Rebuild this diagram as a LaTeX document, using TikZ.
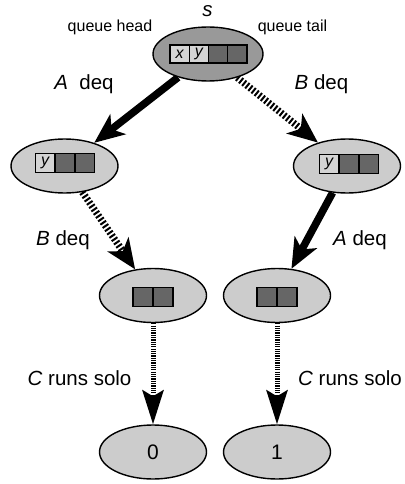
\documentclass[tikz,border=0pt]{standalone}
\usepackage{fontspec}
\setmainfont{Liberation Sans}
\usetikzlibrary{arrows.meta,shapes.geometric,backgrounds}

\definecolor{stategray}{HTML}{CCCCCC}
\definecolor{startgray}{HTML}{999999}
\definecolor{slotdark}{HTML}{666666}
\definecolor{slotlight}{HTML}{D4D4D4}

\tikzset{
  state/.style={ellipse, draw, line width=1.4pt, fill=stategray, minimum width=107pt,
    minimum height=54pt, inner sep=0pt, font=\fontsize{21}{24}\selectfont},
  slot/.style={rectangle, draw, line width=1.1pt, minimum width=19.5pt, minimum height=19pt,
    inner sep=0pt, font=\fontsize{16}{18}\selectfont\itshape},
  lbl/.style={inner sep=0pt, font=\fontsize{20.5}{24}\selectfont},
  smalllbl/.style={inner sep=0pt, font=\fontsize{16}{18}\selectfont},
  solidmove/.style={line width=7.5pt, -{Stealth[length=30pt,width=25pt,inset=8pt]}},
  hatchmove/.style={line width=7pt, dash pattern=on 2pt off 2pt,
    -{Stealth[length=30pt,width=25pt,inset=8pt]}},
  solomove/.style={line width=5pt, dash pattern=on 1.2pt off 1.1pt,
    -{Stealth[length=34pt,width=21pt,inset=6pt]}}
}

\begin{document}
\begin{tikzpicture}[x=1pt,y=-1pt]
    \useasboundingbox (0,0) rectangle (404,484);

    % States of the queue
    \node[state, fill=startgray, minimum width=110pt] (s) at (208,54) {};
    \node[state] (ah) at (64.5,166) {};     % after A deq
    \node[state] (bh) at (347,166) {};      % after B deq
    \node[state] (ab) at (153,295.5) {};    % after A deq, B deq
    \node[state] (ba) at (277,295.5) {};    % after B deq, A deq
    \node[state] (zero) at (153,452) {0};
    \node[state] (one) at (277,452) {1};

    % Queue slots (light = filled item, dark = empty)
    \foreach \i/\col/\item in {0/slotlight/x, 1/slotlight/y, 2/slotdark/, 3/slotdark/}
      \node[slot, fill=\col, minimum width=19.25pt, minimum height=18pt]
        (s-\i) at ([shift={(\i*19.25-28.4,0)}]s.center) {\item};
    \foreach \i/\col/\item in {0/slotlight/y, 1/slotdark/, 2/slotdark/} {
      \node[slot, fill=\col] (ah-\i) at ([shift={(\i*20-19.5,-3)}]ah.center) {\item};
      \node[slot, fill=\col] (bh-\i) at ([shift={(\i*20-18,-2)}]bh.center) {\item};
    }
    \foreach \i in {0,1} {
      \node[slot, fill=slotdark, minimum width=20pt] (ab-\i) at ([shift={(\i*20-10,1.5)}]ab.center) {};
      \node[slot, fill=slotdark, minimum width=20pt] (ba-\i) at ([shift={(\i*20-10,1.5)}]ba.center) {};
    }

    % Moves between states
    \begin{scope}[on background layer]
      \draw[solidmove] (s) -- (ah);
      \draw[hatchmove] (s) -- (bh);
      \draw[hatchmove] (ah) -- (ab);
      \draw[solidmove] (bh) -- (ba);
      \draw[solomove] (ab) -- (zero);
      \draw[solomove] (ba) -- (one);
    \end{scope}

    % Labels
    \node[lbl, anchor=base] (s-name) at (207.5,17) {\textit{s}};
    \node[smalllbl, anchor=base] (head) at (110,32) {queue head};
    \node[smalllbl, anchor=base] (tail) at (292.5,32) {queue tail};
    \node[lbl, anchor=base] (lab-s-ah) at (84,90) {\textit{A}~~deq};
    \node[lbl, anchor=base] (lab-s-bh) at (321.5,90) {\textit{B} deq};
    \node[lbl, anchor=base] (lab-ah-ab) at (63,245) {\textit{B} deq};
    \node[lbl, anchor=base] (lab-bh-ba) at (360,245) {\textit{A} deq};
    \node[lbl, anchor=base] (lab-ab-zero) at (79.5,385) {\textit{C} runs solo};
    \node[lbl, anchor=base] (lab-ba-one) at (350,385) {\textit{C} runs solo};
\end{tikzpicture}
\end{document}
